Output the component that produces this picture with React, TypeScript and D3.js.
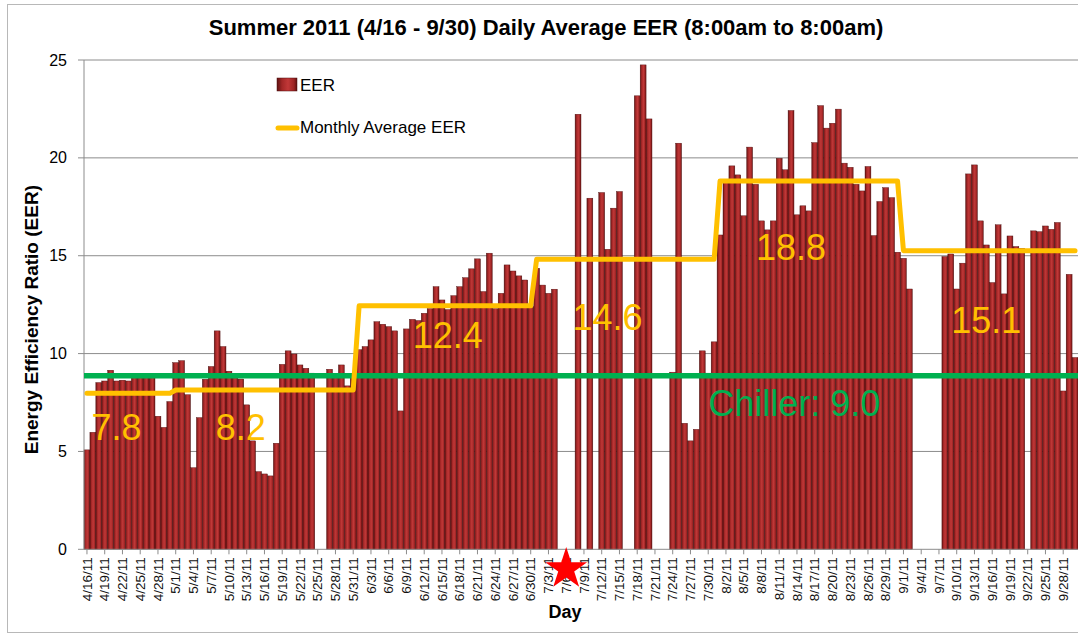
import React from "react";
import * as d3 from "d3";

// Daily EER values (null = no data), one array per month
const aprilEER: (number | null)[] = [5.08, 5.98, 8.52, 8.6, 9.15, 8.6, 8.64, 8.6, 8.8, 8.85, 8.9, 8.85, 6.8, 6.23, 7.55]; // 4/16 - 4/30
const mayEER: (number | null)[] = [9.54, 9.64, 7.9, 4.17, 6.73, 8.69, 9.34, 11.16, 10.36, 9.1, 8.85, 8.7, 7.38, 5.54, 3.97, 3.85, 3.75, 5.42, 9.45, 10.14, 9.98, 9.42, 9.25, 9.0, null, null, 9.2, 8.85, 9.42, 8.35, 8.8];
const juneEER: (number | null)[] = [10.2, 10.36, 10.7, 11.63, 11.5, 11.38, 11.16, 7.07, 11.26, 11.75, 11.69, 12.06, 12.3, 13.42, 12.74, 12.25, 12.96, 13.42, 13.88, 14.33, 14.84, 13.17, 15.13, 12.3, 13.08, 14.53, 14.22, 13.97, 13.76, 12.4];
const julyEER: (number | null)[] = [14.36, 13.5, 13.08, 13.29, null, null, null, 22.23, null, 17.94, null, 18.23, 15.33, 17.43, 18.28, null, null, 23.17, 24.75, 21.99, null, null, null, 9.05, 20.75, 6.44, 5.54, 6.13, 10.14, 9.0, 10.6];
const augustEER: (number | null)[] = [16.06, 18.8, 19.59, 19.13, 17.04, 20.55, 18.65, 16.78, 16.32, 16.78, 19.98, 19.39, 22.42, 17.09, 17.55, 17.29, 20.78, 22.67, 21.52, 21.77, 22.49, 19.73, 19.52, 18.65, 18.31, 19.56, 16.03, 17.77, 18.48, 17.97, 15.18];
const septemberEER: (number | null)[] = [14.87, 13.3, null, null, null, null, null, 14.96, 15.09, 13.3, 14.62, 19.18, 19.64, 16.78, 15.55, 13.63, 16.58, 13.05, 16.01, 15.47, 15.38, null, 16.27, 16.23, 16.52, 16.35, 16.7, 8.09, 14.05, 9.8];

const monthNumbers = [4, 5, 6, 7, 8, 9];
const monthStartDays = [16, 1, 1, 1, 1, 1];
const monthSeries = [aprilEER, mayEER, juneEER, julyEER, augustEER, septemberEER];
const monthlyAverageEER = [7.97, 8.14, 12.44, 14.82, 18.82, 15.26];
const monthLabelText = ["7.8", "8.2", "12.4", "14.6", "18.8", "15.1"];
const monthLabelDay = ["4/21/11", "5/12/11", "6/16/11", "7/13/11", "8/13/11", "9/15/11"];
const monthLabelValue = [5.6, 5.6, 10.3, 11.2, 14.8, 11.05];

const chillerEER = 8.87;
const chillerLabel = "Chiller: 9.0";
const chillerLabelDay = "7/30/11";
const chillerLabelValue = 6.8;
const starDay = "7/6/11";

const yTicks = [0, 5, 10, 15, 20, 25];

type Day = { label: string; value: number | null; avg: number };

const days: Day[] = monthSeries.flatMap((vals, m) =>
  vals.map((v, i) => ({
    label: `${monthNumbers[m]}/${monthStartDays[m] + i}/11`,
    value: v,
    avg: monthlyAverageEER[m],
  }))
);

const FONT = "'Liberation Sans', Arial, sans-serif";

export default function App() {
  const W = 1078;
  const H = 637;
  const left = 84;
  const right = 1078;
  const top = 60;
  const bottom = 549.3;

  const x = d3.scaleBand<string>().domain(days.map((d) => d.label)).range([left, right]).padding(0);
  const y = d3.scaleLinear().domain([0, 25]).range([bottom, top]);
  const bw = x.bandwidth();
  const cx = (l: string) => (x(l) as number) + bw / 2;

  const avgLine = d3
    .line<Day>()
    .x((d) => cx(d.label))
    .y((d) => y(d.avg))(days) as string;

  const tickDays = days.filter((_, i) => i % 3 === 0);

  const sx = cx(starDay);
  const sy = 569;
  const R = 22;
  const r = R * 0.382;
  const starPts = d3.range(10).map((k) => {
    const ang = -Math.PI / 2 + (k * Math.PI) / 5;
    const rad = k % 2 === 0 ? R : r;
    return [sx + rad * Math.cos(ang), sy + rad * Math.sin(ang)];
  });
  const starPath = "M" + starPts.map((p) => p.join(",")).join("L") + "Z";

  return (
    <svg
      width={W}
      height={H}
      style={{ position: "absolute", left: 0, top: 0, background: "#fff" }}
      fontFamily={FONT}
    >
      <defs>
        <linearGradient id="barGrad" x1="0" x2="1" y1="0" y2="0">
          <stop offset="0" stopColor="#5e1212" />
          <stop offset="0.25" stopColor="#a32727" />
          <stop offset="0.55" stopColor="#c13838" />
          <stop offset="0.85" stopColor="#9c2424" />
          <stop offset="1" stopColor="#5a1111" />
        </linearGradient>
        <filter id="shadow" x="-5%" y="-200%" width="110%" height="500%">
          <feGaussianBlur stdDeviation="1.5" />
        </filter>
      </defs>
      <rect x={0} y={0} width={W} height={H} fill="#fff" />
      <rect x={7.5} y={4.5} width={1085} height={628} fill="none" stroke="#b8b8b8" strokeWidth={1} />

      {/* Title */}
      <text x={546} y={35} textAnchor="middle" fontWeight="bold" fontSize={22} fill="#000">
        Summer 2011 (4/16 - 9/30) Daily Average EER (8:00am to 8:00am)
      </text>

      {/* Gridlines */}
      {yTicks.filter((t) => t > 0).map((t) => (
        <line key={t} x1={left} x2={right} y1={y(t)} y2={y(t)} stroke="#8c8c8c" strokeWidth={1} />
      ))}

      {/* Bars */}
      {days
        .filter((d) => d.value !== null)
        .map((d) => (
          <rect
            key={d.label}
            x={x(d.label) as number}
            y={y(d.value as number)}
            width={bw}
            height={bottom - y(d.value as number)}
            fill="url(#barGrad)"
            stroke="#4f0f0f"
            strokeWidth={0.4}
          />
        ))}

      {/* Axes */}
      <line x1={left} x2={left} y1={top} y2={bottom} stroke="#8c8c8c" strokeWidth={1} />
      <line x1={left} x2={right} y1={bottom} y2={bottom} stroke="#8c8c8c" strokeWidth={1} />
      {yTicks.map((t) => (
        <g key={t}>
          <line x1={left - 6} x2={left} y1={y(t)} y2={y(t)} stroke="#8c8c8c" />
          <text x={67} y={y(t)} dy="0.35em" textAnchor="end" fontSize={16} fill="#000">
            {t}
          </text>
        </g>
      ))}
      {tickDays.map((d) => (
        <g key={d.label}>
          <line x1={cx(d.label)} x2={cx(d.label)} y1={bottom} y2={bottom + 5} stroke="#8c8c8c" />
          <text
            transform={`translate(${cx(d.label)},${bottom + 8}) rotate(-90)`}
            textAnchor="end"
            dy="0.35em"
            fontSize={13.5}
            fill="#111"
          >
            {d.label}
          </text>
        </g>
      ))}

      {/* Axis titles */}
      <text
        transform={`translate(31,${(top + bottom) / 2 + 15}) rotate(-90)`}
        textAnchor="middle"
        dy="0.35em"
        fontWeight="bold"
        fontSize={19}
        fill="#000"
      >
        Energy Efficiency Ratio (EER)
      </text>
      <text x={565} y={618} textAnchor="middle" fontWeight="bold" fontSize={18} fill="#000">
        Day
      </text>

      {/* Chiller line */}
      <line x1={left} x2={right} y1={y(chillerEER) + 4} y2={y(chillerEER) + 4} stroke="#9a9a9a" strokeWidth={4} opacity={0.5} filter="url(#shadow)" />
      <line x1={left} x2={right} y1={y(chillerEER)} y2={y(chillerEER)} stroke="#00b050" strokeWidth={5.5} />

      {/* Monthly average line */}
      <path d={avgLine} fill="none" stroke="#ffc000" strokeWidth={5} strokeLinejoin="round" strokeLinecap="round" />

      {/* Annotations */}
      {monthLabelText.map((t, i) => (
        <text key={t} x={cx(monthLabelDay[i])} y={y(monthLabelValue[i])} textAnchor="middle" fontSize={36} fill="#ffc000">
          {t}
        </text>
      ))}
      <text x={cx(chillerLabelDay)} y={y(chillerLabelValue)} fontSize={36} fill="#00b050">
        {chillerLabel}
      </text>

      {/* Legend */}
      <rect x={277} y={78} width={20} height={13} fill="url(#barGrad)" stroke="#4f0f0f" strokeWidth={0.5} />
      <text x={300} y={90.5} fontSize={17} fill="#000">EER</text>
      <line x1={278} x2={297} y1={128} y2={128} stroke="#ffc000" strokeWidth={5} strokeLinecap="round" />
      <text x={300} y={133} fontSize={17} fill="#000">Monthly Average EER</text>

      {/* Star */}
      <path d={starPath} fill="#ff0000" />
    </svg>
  );
}
